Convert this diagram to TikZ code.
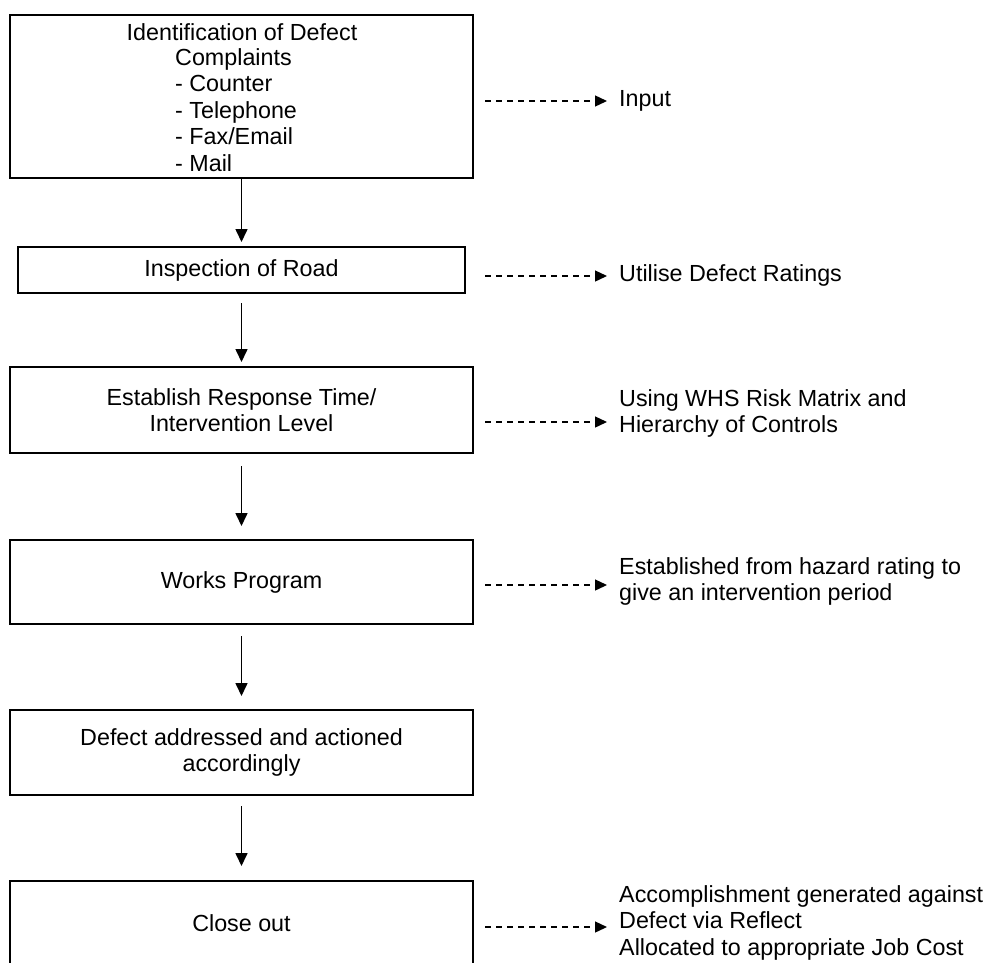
\documentclass[tikz,border=0pt]{standalone}
\usepackage{fontspec}
\setmainfont{Liberation Sans}
\usetikzlibrary{arrows.meta}
\tikzset{
  procbox/.style={draw=black, line width=2pt, fill=white, inner sep=0pt,
    minimum width=463pt, align=center,
    font=\fontsize{23.3}{26.5}\selectfont},
  txt/.style={inner sep=0pt, align=left, font=\fontsize{23.3}{26.5}\selectfont},
  flowarrow/.style={line width=1.6pt, -{Triangle[width=12pt,length=13pt]}},
  notearrow/.style={line width=1.3pt, dash pattern=on 6pt off 5pt,
    -{Triangle[width=11pt,length=12pt]}}
}
\begin{document}
\begin{tikzpicture}[x=1pt,y=-1pt]
\useasboundingbox (0,0) rectangle (987,962);
\clip (0,0) rectangle (987,962);
\fill[white] (0,0) rectangle (987,962);

% process boxes
\node[procbox, minimum height=163pt] (b1) at (241.5,96.5) {};
\node[txt, anchor=center, align=center] (b1title) at (242,32) {Identification of Defect};
\node[txt, anchor=west] (b1list) at (175,110) {Complaints\\- Counter\\- Telephone\\- Fax/Email\\- Mail};
\node[procbox, minimum width=447pt, minimum height=46pt] (b2) at (241.5,270) {Inspection of Road};
\node[procbox, minimum height=86pt] (b3) at (241.5,410) {Establish Response Time/\\Intervention Level};
\node[procbox, minimum height=84pt] (b4) at (241.5,582) {Works Program};
\node[procbox, minimum height=85pt] (b5) at (241.5,752.5) {Defect addressed and actioned\\accordingly};
\node[procbox, minimum height=85pt] (b6) at (241.5,923.5) {Close out};

% flow arrows
\draw[flowarrow, shorten >=4pt] (b1.south) -- (b2.north);
\draw[flowarrow, shorten <=9pt, shorten >=4pt] (b2.south) -- (b3.north);
\draw[flowarrow, shorten <=12pt, shorten >=13pt] (b3.south) -- (b4.north);
\draw[flowarrow, shorten <=11pt, shorten >=13pt] (b4.south) -- (b5.north);
\draw[flowarrow, shorten <=10pt, shorten >=14pt] (b5.south) -- (b6.north);

% notes
\node[txt, anchor=west] (n1) at (619,101) {Input};
\node[txt, anchor=west] (n2) at (619,275) {Utilise Defect Ratings};
\node[txt, anchor=west] (n3) at (619,413.5) {Using WHS Risk Matrix and\\Hierarchy of Controls};
\node[txt, anchor=west] (n4) at (619,581.5) {Established from hazard rating to\\give an intervention period};
\node[txt, anchor=west] (n5) at (619,922.7) {Accomplishment generated against\\Defect via Reflect\\Allocated to appropriate Job Cost};

\coordinate (a1s) at (485,101);  \coordinate (a1e) at (607,101);
\coordinate (a2s) at (485,276);  \coordinate (a2e) at (607,276);
\coordinate (a3s) at (485,422);  \coordinate (a3e) at (607,422);
\coordinate (a4s) at (485,585);  \coordinate (a4e) at (607,585);
\coordinate (a5s) at (485,927);  \coordinate (a5e) at (607,927);
\draw[notearrow] (a1s) -- (a1e);
\draw[notearrow] (a2s) -- (a2e);
\draw[notearrow] (a3s) -- (a3e);
\draw[notearrow] (a4s) -- (a4e);
\draw[notearrow] (a5s) -- (a5e);
\end{tikzpicture}
\end{document}
